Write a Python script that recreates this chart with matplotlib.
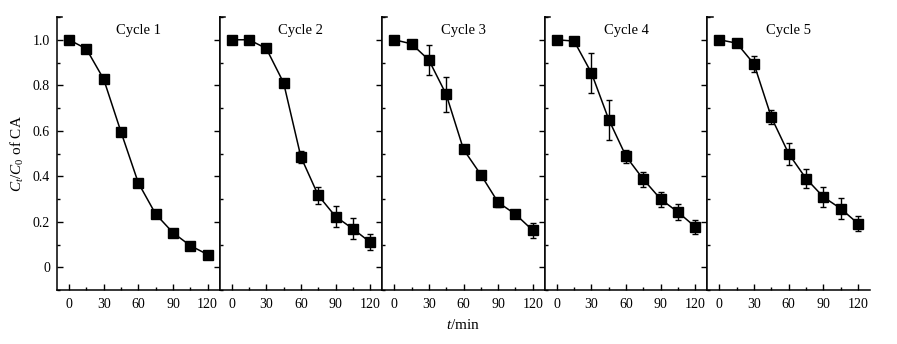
import numpy as np
import matplotlib.pyplot as plt
from matplotlib.ticker import MultipleLocator, FuncFormatter

plt.rcParams['font.family'] = ['Liberation Serif', 'DejaVu Serif']
plt.rcParams['mathtext.fontset'] = 'custom'
plt.rcParams['mathtext.rm'] = 'Liberation Serif'
plt.rcParams['mathtext.it'] = 'Liberation Serif:italic'
plt.rcParams['font.size'] = 10

t = [0, 15, 30, 45, 60, 75, 90, 105, 120]
cycles = ["Cycle 1", "Cycle 2", "Cycle 3", "Cycle 4", "Cycle 5"]

c1 = [1.0, 0.96, 0.827, 0.595, 0.371, 0.234, 0.152, 0.095, 0.056]
e1 = [0.0, 0.0, 0.0, 0.0, 0.0, 0.0, 0.0, 0.0, 0.012]
c2 = [1.0, 1.0, 0.962, 0.811, 0.485, 0.316, 0.223, 0.169, 0.110]
e2 = [0.0, 0.012, 0.0, 0.0, 0.027, 0.038, 0.046, 0.046, 0.036]
c3 = [1.0, 0.982, 0.911, 0.760, 0.518, 0.407, 0.285, 0.233, 0.162]
e3 = [0.0, 0.0, 0.068, 0.077, 0.0, 0.0, 0.020, 0.0, 0.032]
c4 = [1.0, 0.994, 0.854, 0.649, 0.487, 0.386, 0.299, 0.242, 0.177]
e4 = [0.0, 0.010, 0.086, 0.088, 0.029, 0.032, 0.033, 0.034, 0.032]
c5 = [1.0, 0.985, 0.893, 0.659, 0.499, 0.390, 0.309, 0.258, 0.192]
e5 = [0.0, 0.0, 0.035, 0.031, 0.048, 0.043, 0.042, 0.045, 0.034]

values = [c1, c2, c3, c4, c5]
errors = [e1, e2, e3, e4, e5]

fig = plt.figure(figsize=(8.97, 3.44), dpi=100)

left = 57 / 897
width = 162.6 / 897
bottom = 1 - 290 / 344
height = (290 - 17) / 344
xlim = (-10.4, 130.4)
ylim = (-0.1, 1.10)

fmt = FuncFormatter(lambda v, p: "0" if abs(v) < 1e-9 else "%.1f" % v)

for i in range(5):
    ax = fig.add_axes([left + i * width, bottom, width, height])
    ax.errorbar(t, values[i], yerr=errors[i], color='black', lw=1.1,
                marker='s', ms=6.5, elinewidth=1, capsize=2.2, capthick=1)
    ax.set_xlim(*xlim)
    ax.set_ylim(*ylim)
    ax.xaxis.set_major_locator(MultipleLocator(30))
    ax.xaxis.set_minor_locator(MultipleLocator(15))
    ax.yaxis.set_major_locator(MultipleLocator(0.2))
    ax.yaxis.set_minor_locator(MultipleLocator(0.1))
    ax.yaxis.set_major_formatter(fmt)
    ax.tick_params(axis='both', which='both', direction='in')
    ax.tick_params(which='major', length=4, width=1)
    ax.tick_params(which='minor', length=2.5, width=1)
    ax.tick_params(axis='x', pad=6)
    ax.tick_params(axis='y', left=(i == 0), labelleft=(i == 0),
                   right=(i < 4), pad=5)
    for s in ax.spines.values():
        s.set_linewidth(1.1)
    ax.spines['top'].set_bounds(xlim[0], xlim[0] + 4.5)
    if i == 4:
        ax.spines['right'].set_visible(False)
    ax.text(0.5, 0.975, cycles[i], transform=ax.transAxes,
            ha='center', va='top', fontsize=10.5)
    if i == 0:
        ax.set_ylabel(r"$C_t/C_0$ of CA", fontsize=11, labelpad=5)

fig.text(463 / 897, 1 - 325 / 344, r"$t$/min", ha='center', va='center',
         fontsize=11)

fig.savefig("out.png", dpi=100)
